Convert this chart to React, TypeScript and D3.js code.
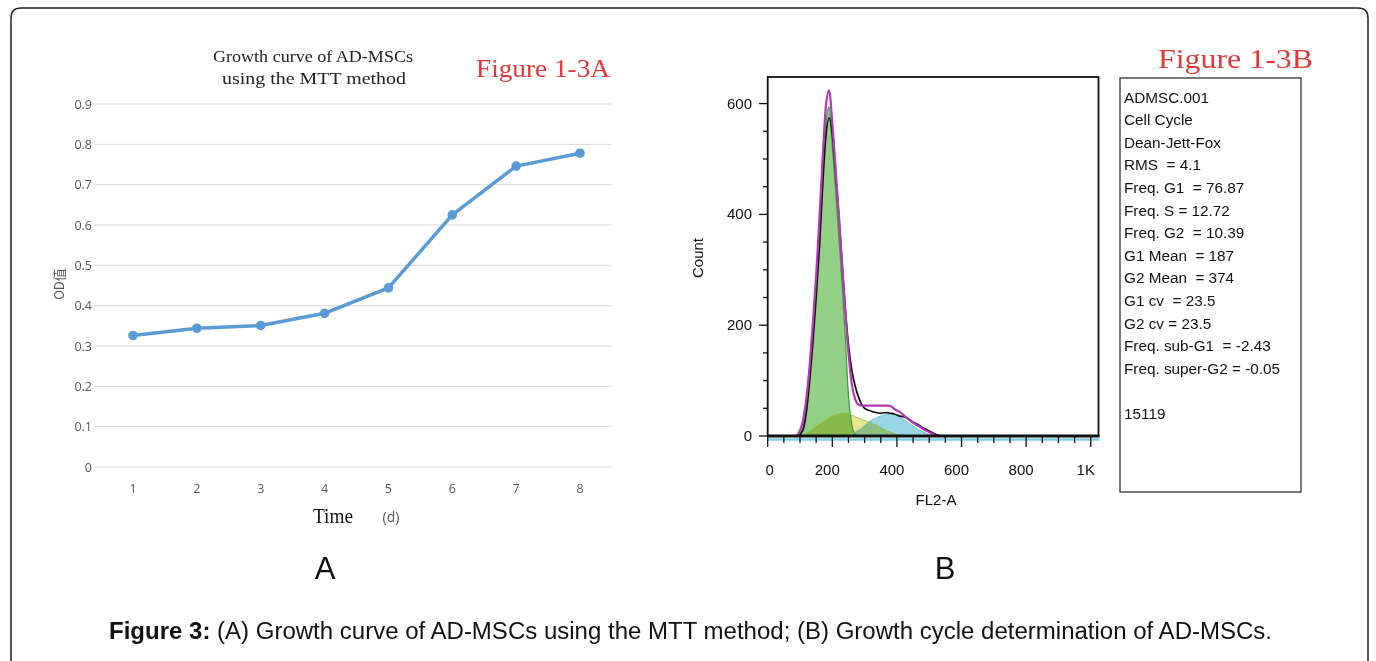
import React from "react";
import * as d3 from "d3";

// ---------- Panel A data ----------
const days = [1, 2, 3, 4, 5, 6, 7, 8];
const odValues = [0.326, 0.344, 0.351, 0.381, 0.444, 0.625, 0.746, 0.778];
const odTicks = [0, 0.1, 0.2, 0.3, 0.4, 0.5, 0.6, 0.7, 0.8, 0.9];

// ---------- Panel B data (FL2-A channel, counts) ----------
const channels = [80, 90, 100, 110, 120, 130, 140, 150, 160, 170, 180, 190, 200, 210, 220, 230, 240, 250, 260, 270, 280, 290, 300, 310, 320, 330, 340, 350, 360, 370, 380, 390, 400, 410, 420, 430, 440, 450, 460, 470, 480, 490, 500, 510, 520, 530, 540];
const rawCounts = [0, 0, 3, 12, 45, 100, 170, 250, 340, 450, 540, 574, 545, 475, 400, 315, 232, 165, 120, 92, 72, 58, 50, 47, 45, 43, 42, 41, 42, 42, 41, 40, 38, 36, 35, 33, 29, 25, 22, 19, 15, 12, 9, 6, 3, 1, 0];
const fitCounts = [0, 1, 10, 30, 70, 128, 205, 290, 390, 500, 595, 624, 565, 485, 400, 312, 226, 150, 95, 68, 57, 55, 55, 55, 55, 55, 55, 55, 55, 55, 54, 50, 46, 43, 38, 33, 28, 24, 20, 17, 13, 10, 7, 4, 1, 0, 0];
const g1Counts = [0, 0, 4, 18, 55, 108, 180, 262, 348, 465, 563, 594, 520, 445, 360, 278, 182, 72, 22, 4, 0, 0, 0, 0, 0, 0, 0, 0, 0, 0, 0, 0, 0, 0, 0, 0, 0, 0, 0, 0, 0, 0, 0, 0, 0, 0, 0];
const sCounts = [0, 0, 0, 2, 5, 9, 13, 17, 21, 25, 29, 33, 36, 38, 40, 41, 41, 40, 38, 35, 32, 30, 28, 26, 24, 21, 18, 15, 12, 9, 7, 5, 3, 2, 1, 0, 0, 0, 0, 0, 0, 0, 0, 0, 0, 0, 0];
const g2Counts = [0, 0, 0, 0, 0, 0, 0, 0, 0, 0, 0, 0, 0, 0, 0, 0, 0, 0, 2, 6, 10, 14, 19, 24, 28, 31, 34, 36, 38, 39, 40, 39, 37, 34, 30, 26, 22, 18, 14, 11, 8, 5, 3, 1, 0, 0, 0];
const fl2Labels = [
  { v: 0, t: "0" },
  { v: 200, t: "200" },
  { v: 400, t: "400" },
  { v: 600, t: "600" },
  { v: 800, t: "800" },
  { v: 1000, t: "1K" },
];
const countLabels = [0, 200, 400, 600];
const statsLines = [
  "ADMSC.001",
  "Cell Cycle",
  "Dean-Jett-Fox",
  "RMS  = 4.1",
  "Freq. G1  = 76.87",
  "Freq. S = 12.72",
  "Freq. G2  = 10.39",
  "G1 Mean  = 187",
  "G2 Mean  = 374",
  "G1 cv  = 23.5",
  "G2 cv = 23.5",
  "Freq. sub-G1  = -2.43",
  "Freq. super-G2 = -0.05",
  "",
  "15119",
];

export default function App() {
  // Panel A scales
  const xA = d3.scaleLinear().domain([1, 8]).range([133, 580]);
  const yA = d3.scaleLinear().domain([0, 0.9]).range([467, 104]);
  const lineA = d3
    .line<number>()
    .x((_, i) => xA(days[i]))
    .y((d) => yA(d));

  // Panel B scales
  const xB = d3.scaleLinear().domain([0, 1024]).range([767.7, 1098.5]);
  const yB = d3.scaleLinear().domain([0, 648]).range([436, 77]);
  const area = (vals: number[]) =>
    d3
      .area<number>()
      .x((_, i) => xB(channels[i]))
      .y0(yB(0))
      .y1((d) => yB(d))
      .curve(d3.curveMonotoneX)(vals) as string;
  const line = (vals: number[]) =>
    d3
      .line<number>()
      .x((_, i) => xB(channels[i]))
      .y((d) => yB(d))
      .curve(d3.curveMonotoneX)(vals) as string;
  const xTicksB = xB.ticks(20);
  const yTicksB = yB.ticks(13);

  const serifCJK = "'Liberation Serif', 'DejaVu Serif', serif";
  const sans = "'Liberation Sans', Arial, sans-serif";

  return (
    <svg
      width={1376}
      height={661}
      style={{ position: "absolute", left: 0, top: 0, background: "#fff" }}
    >
      {/* outer frame, open at bottom */}
      <path
        d="M11,661 L11,18 Q11,8 21,8 L1358,8 Q1368,8 1368,18 L1368,661"
        fill="none"
        stroke="#222"
        strokeWidth={1.5}
      />

      {/* ===== Panel A ===== */}
      <text x={313} y={62} textAnchor="middle" fontFamily={serifCJK} fontSize={17} textLength={200} lengthAdjust="spacingAndGlyphs" fill="#222">
        Growth curve of AD-MSCs
      </text>
      <text x={314} y={84} textAnchor="middle" fontFamily={serifCJK} fontSize={17} textLength={184} lengthAdjust="spacingAndGlyphs" fill="#222">
        using the MTT method
      </text>
      <text x={476} y={77} fontFamily={serifCJK} fontSize={25} textLength={134} lengthAdjust="spacingAndGlyphs" fill="#e23a3a">
        Figure 1-3A
      </text>

      {odTicks.map((t) => (
        <g key={"g" + t}>
          <line x1={94} x2={612} y1={yA(t)} y2={yA(t)} stroke="#d9d9d9" strokeWidth={1} />
          <text x={92} y={yA(t) + 4.5} textAnchor="end" fontFamily="'Open Sans', 'Noto Sans', sans-serif" fontSize={12.5} fill="#595959">
            {t === 0 ? "0" : t.toFixed(1)}
          </text>
        </g>
      ))}
      {days.map((d) => (
        <text key={"d" + d} x={xA(d)} y={493} textAnchor="middle" fontFamily="'Open Sans', 'Noto Sans', sans-serif" fontSize={12.5} fill="#595959">
          {d}
        </text>
      ))}
      <text transform="translate(64,284) rotate(-90)" textAnchor="middle" fontFamily="'Noto Sans CJK SC', 'Noto Sans', sans-serif" fontSize={13} fill="#595959">
        OD值
      </text>
      <text x={333} y={523} textAnchor="middle" fontFamily={serifCJK} fontSize={21} textLength={40} lengthAdjust="spacingAndGlyphs" fill="#111">
        Time
      </text>
      <text x={391} y={522} textAnchor="middle" fontFamily="'Open Sans', 'Noto Sans', sans-serif" fontSize={14} fill="#595959">
        (d)
      </text>

      <path d={lineA(odValues) as string} fill="none" stroke="#5b9bd5" strokeWidth={3.5} strokeLinejoin="round" />
      {odValues.map((v, i) => (
        <circle key={"p" + i} cx={xA(days[i])} cy={yA(v)} r={4.8} fill="#5b9bd5" />
      ))}

      {/* ===== Panel B ===== */}
      <text x={1158} y={68} fontFamily={serifCJK} fontSize={28} textLength={155} lengthAdjust="spacingAndGlyphs" fill="#e23a3a">
        Figure 1-3B
      </text>

      {/* fills */}
      <g style={{ isolation: "isolate" }}>
        <path d={area(g1Counts)} fill="#93cf85" style={{ mixBlendMode: "multiply" }} />
        <path d={area(sCounts)} fill="#ebe38e" style={{ mixBlendMode: "multiply" }} />
        <path d={area(g2Counts)} fill="#98d6e6" style={{ mixBlendMode: "multiply" }} />
      </g>
      <path d={line(g1Counts)} fill="none" stroke="#3a9a3a" strokeWidth={1.2} />
      <path d={line(sCounts)} fill="none" stroke="#8fbf3f" strokeWidth={0.8} />
      <path d={line(g2Counts)} fill="none" stroke="#60b8d0" strokeWidth={0.8} />
      <path d={line(rawCounts)} fill="none" stroke="#111" strokeWidth={1.7} />
      <path d={line(fitCounts)} fill="none" stroke="#b23ab5" strokeWidth={2.2} />

      {/* plot box */}
      <rect x={767.7} y={77} width={330.8} height={359} fill="none" stroke="#111" strokeWidth={1.8} />
      <line x1={767} x2={1099.5} y1={439.5} y2={439.5} stroke="#80d0e2" strokeWidth={2.5} />
      <line x1={767} x2={1099.5} y1={436} y2={436} stroke="#111" strokeWidth={3} />

      {/* y ticks */}
      {yTicksB.map((t) => (
        <line key={"yt" + t} x1={767.7} x2={t % 200 === 0 ? 759 : 763} y1={yB(t)} y2={yB(t)} stroke="#111" strokeWidth={1.3} />
      ))}
      {countLabels.map((t) => (
        <text key={"yl" + t} x={752} y={yB(t) + 5} textAnchor="end" fontFamily={sans} fontSize={15} fill="#111">
          {t}
        </text>
      ))}
      {/* x ticks */}
      {xTicksB.map((t) => (
        <line key={"xt" + t} x1={xB(t)} x2={xB(t)} y1={437} y2={t % 200 === 0 ? 447 : 443} stroke="#111" strokeWidth={1.3} />
      ))}
      {fl2Labels.map((l) => (
        <text key={"xl" + l.v} x={xB(l.v) - (l.v === 0 ? -2 : 5)} y={475} textAnchor="middle" fontFamily={sans} fontSize={15} fill="#111">
          {l.t}
        </text>
      ))}
      <text transform="translate(703,258) rotate(-90)" textAnchor="middle" fontFamily={sans} fontSize={15} fill="#111">
        Count
      </text>
      <text x={936} y={505} textAnchor="middle" fontFamily={sans} fontSize={15} fill="#111">
        FL2-A
      </text>

      {/* stats box */}
      <rect x={1120} y={78} width={181} height={414} fill="none" stroke="#222" strokeWidth={1.2} />
      {statsLines.map((s, i) => (
        <text key={"s" + i} x={1124} y={102.5 + i * 22.6} fontFamily={sans} fontSize={15.3} fill="#111" style={{ whiteSpace: "pre" }}>
          {s}
        </text>
      ))}

      {/* panel letters */}
      <text x={325} y={579} textAnchor="middle" fontFamily={sans} fontSize={31} fill="#111">
        A
      </text>
      <text x={945} y={579} textAnchor="middle" fontFamily={sans} fontSize={31} fill="#111">
        B
      </text>

      {/* caption */}
      <text x={109} y={639} fontFamily={sans} fontSize={23} fill="#111" textLength={1163} lengthAdjust="spacingAndGlyphs">
        <tspan fontWeight="bold">Figure 3:</tspan>
        <tspan> (A) Growth curve of AD-MSCs using the MTT method; (B) Growth cycle determination of AD-MSCs.</tspan>
      </text>
    </svg>
  );
}
